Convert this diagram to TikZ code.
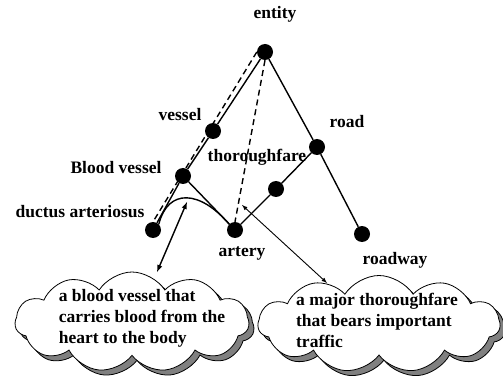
\documentclass[tikz,border=0pt]{standalone}
\usepackage{fontspec}
\setmainfont{Liberation Serif}
\usetikzlibrary{shapes.symbols, shadows, positioning}

\tikzset{
  dot/.style={circle, fill=black, minimum size=16pt, inner sep=0pt},
  tag/.style={inner sep=0pt},
  edge/.style={line width=1.4pt},
  gloss/.style={cloud, cloud puffs=11, cloud puff arc=115, cloud ignores aspect,
    draw, line width=0.8pt, fill=white,
    copy shadow={fill=gray, draw=black, shadow xshift=5pt, shadow yshift=-5pt}},
}

\begin{document}
\begin{tikzpicture}[x=1pt, y=-1pt, >=latex,
    every node/.style={font=\bfseries\fontsize{17.5}{21}\selectfont}]
  \useasboundingbox (0,0) rectangle (503,390);

  % tree nodes
  \node[dot] (ent) at (265,52) {};
  \node[dot] (ves) at (213,131) {};
  \node[dot] (bld) at (183,176) {};
  \node[dot] (duc) at (153,230) {};
  \node[dot] (art) at (235,230) {};
  \node[dot] (thr) at (276,189) {};
  \node[dot] (rd) at (317,147) {};
  \node[dot] (rdw) at (362,234) {};

  % labels
  \node[tag] (lent) at (275,14) {entity};
  \node[tag] (lves) at (180,115) {vessel};
  \node[tag] (lbld) at (116,168) {Blood vessel};
  \node[tag] (lduc) at (80,212) {ductus arteriosus};
  \node[tag] (lthr) at (257,157) {thoroughfare};
  \node[tag] (lrd) at (347,122) {road};
  \node[tag] (lart) at (242,253) {artery};
  \node[tag] (lrdw) at (395,260) {roadway};

  % glosses
  \node[gloss, minimum width=234pt, minimum height=100pt] (gl1) at (132,322) {};
  \node[tag, align=left] (tx1) at (142,318) {a blood vessel that\\carries blood from the\\heart to the body};
  \node[gloss, minimum width=242pt, minimum height=97pt] (gl2) at (379,324) {};
  \node[tag, align=left] (tx2) at (377,320) {a major thoroughfare\\that bears important\\traffic};

  % hypernym edges
  \draw[edge] (ent) -- (ves) -- (bld) -- (duc);
  \draw[edge] (bld) -- (art) -- (thr) -- (rd) -- (ent);
  \draw[edge] (rd) -- (rdw);
  \draw[edge, dash pattern=on 6pt off 4pt] (ent.west) -- (duc.north);
  \draw[edge, dash pattern=on 6pt off 4pt] (ent.south) -- (art.north);
  \draw[edge] (duc.north east) .. controls (168,188) and (200,190) .. (art.north west);

  % pointers to glosses
  \coordinate (pk) at (187,202);
  \coordinate (top1) at (157,272);
  \coordinate (dsh) at (242,205);
  \coordinate (top2) at (327,283);
  \draw[edge, <->] (pk) -- (top1);
  \draw[line width=0.9pt, <->] (dsh) -- (top2);
\end{tikzpicture}
\end{document}
